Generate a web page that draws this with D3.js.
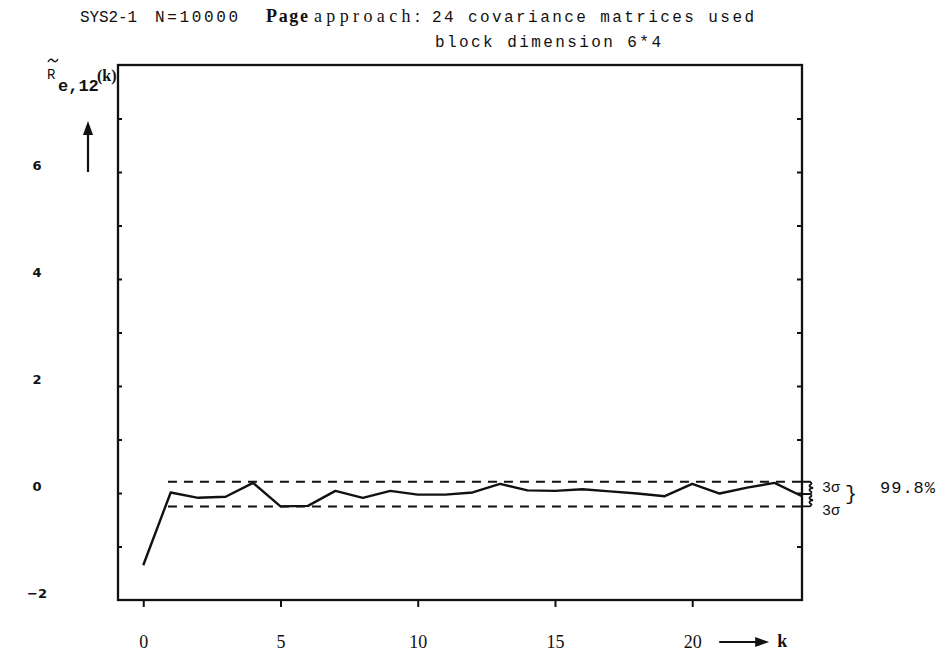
<!DOCTYPE html>
<html>
<head>
<meta charset="utf-8">
<script src="https://cdn.jsdelivr.net/npm/d3@7"></script>
<style>
  body { margin: 0; background: #fff; }
  svg { display: block; }
</style>
</head>
<body>
<svg id="chart" width="945" height="656"></svg>
<script>
// Estimated cross-correlation of the residuals, lags k = 0..24
const lags = d3.range(0, 25);
const corrValues = [-1.35, 0.01, -0.09, -0.07, 0.19, -0.25, -0.24, 0.04, -0.09, 0.04,
                    -0.03, -0.03, 0.01, 0.17, 0.05, 0.04, 0.07, 0.03, -0.01, -0.06,
                    0.17, -0.01, 0.10, 0.19, -0.06];
// 3-sigma confidence band (upper, lower)
const bandLimits = [0.21, -0.25];
const bandStartLag = 0.9;
// Axis ticks
const xTickValues = [0, 5, 10, 15, 20];
const yTickLabels = [6, 4, 2, 0, -2];
const yTickMarks = d3.range(-1, 8);

const svg = d3.select("#chart");
const frame = { left: 118, right: 802, top: 65, bottom: 600 };

const x = d3.scaleLinear().domain([-0.92, 24]).range([frame.left, frame.right]);
const y = d3.scaleLinear().domain([-2, 8]).range([frame.bottom, frame.top]);

const ink = "#111";
const mono = "Liberation Mono, DejaVu Sans Mono, monospace";
const serif = "Liberation Serif, serif";

// Two-line heading, typewriter style
const heading = [
  { t: "SYS2-1", x: 80, y: 22, w: 57, font: mono, size: 16 },
  { t: "N=10000", x: 155, y: 22, w: 83, font: mono, size: 16 },
  { t: "Page", x: 266, y: 22, w: 42, font: serif, size: 18, bold: true },
  { t: "approach:", x: 314, y: 22, w: 106, font: serif, size: 18 },
  { t: "24 covariance matrices used", x: 432, y: 22, w: 322, font: mono, size: 16 },
  { t: "block dimension 6*4", x: 435, y: 47, w: 226, font: mono, size: 16 }
];
svg.append("g").selectAll("text").data(heading).join("text")
  .attr("x", d => d.x).attr("y", d => d.y)
  .attr("textLength", d => d.w).attr("lengthAdjust", "spacing")
  .style("font-family", d => d.font)
  .style("font-size", d => d.size + "px")
  .style("font-weight", d => d.bold ? "bold" : "normal")
  .attr("fill", ink)
  .text(d => d.t);

// Frame
svg.append("rect")
  .attr("x", frame.left).attr("y", frame.top)
  .attr("width", frame.right - frame.left).attr("height", frame.bottom - frame.top)
  .attr("fill", "none").attr("stroke", ink).attr("stroke-width", 2.3);

// Inward ticks on the left and right frame edges
const leftAxis = d3.axisRight(y).tickValues(yTickMarks).tickSize(4).tickFormat("");
svg.append("g").attr("transform", `translate(${frame.left},0)`).call(leftAxis)
  .call(g => g.select(".domain").remove())
  .call(g => g.selectAll("line").attr("stroke", ink).attr("stroke-width", 2));
const rightAxis = d3.axisLeft(y).tickValues(yTickMarks).tickSize(5).tickFormat("");
svg.append("g").attr("transform", `translate(${frame.right},0)`).call(rightAxis)
  .call(g => g.select(".domain").remove())
  .call(g => g.selectAll("line").attr("stroke", ink).attr("stroke-width", 2));

// Bottom axis: outward ticks, numbers further below
const bottomAxis = d3.axisBottom(x).tickValues(xTickValues).tickSize(7).tickPadding(28);
svg.append("g").attr("transform", `translate(0,${frame.bottom})`).call(bottomAxis)
  .call(g => g.select(".domain").remove())
  .call(g => g.selectAll("line").attr("stroke", ink).attr("stroke-width", 2))
  .call(g => g.selectAll("text").attr("fill", ink)
    .style("font-family", serif).style("font-size", "18px"));

// Y tick labels, set just above their tick heights
svg.append("g").selectAll("text").data(yTickLabels).join("text")
  .attr("x", 37).attr("y", d => y(d) - 2)
  .attr("text-anchor", "middle")
  .style("font-family", "DejaVu Sans, sans-serif").style("font-weight", "bold").style("font-size", "13px")
  .attr("fill", ink)
  .text(d => d === -2 ? "\u22122" : d);

// Y axis caption: R~ e,12 (k) with an up arrow
const cap = svg.append("g").attr("fill", ink);
cap.append("path").attr("d", "M48,62 Q50.5,57.5 53,60.5 T58,59")
  .attr("fill", "none").attr("stroke", ink).attr("stroke-width", 1.4);
cap.append("text").attr("x", 47).attr("y", 79).style("font-family", mono).style("font-size", "14px").text("R");
cap.append("text").attr("x", 58).attr("y", 91).style("font-family", mono).style("font-size", "17px").style("font-weight", "bold").text("e,12");
cap.append("text").attr("x", 97).attr("y", 81).style("font-family", serif).style("font-size", "16px").style("font-weight", "bold").text("(k)");
svg.append("line").attr("x1", 88).attr("x2", 88).attr("y1", 172).attr("y2", 132)
  .attr("stroke", ink).attr("stroke-width", 2.2);
svg.append("path").attr("d", "M88,121 L83,135 L93,135 Z").attr("fill", ink);

// "-> k" next to the last x label
const ax = x(20) + 27;
const ay = frame.bottom + 42;
svg.append("line").attr("x1", ax).attr("x2", ax + 38).attr("y1", ay).attr("y2", ay)
  .attr("stroke", ink).attr("stroke-width", 2.2);
svg.append("path").attr("d", `M${ax + 50},${ay} L${ax + 36},${ay - 5} L${ax + 36},${ay + 5} Z`).attr("fill", ink);
svg.append("text").attr("x", ax + 58).attr("y", ay + 5)
  .style("font-family", serif).style("font-weight", "bold").style("font-size", "18px")
  .attr("fill", ink).text("k");

// Confidence band (dashed)
svg.append("g").selectAll("line").data(bandLimits).join("line")
  .attr("x1", x(bandStartLag)).attr("x2", frame.right)
  .attr("y1", d => y(d)).attr("y2", d => y(d))
  .attr("stroke", ink).attr("stroke-width", 2).attr("stroke-dasharray", "9,7");

// Correlation curve
const line = d3.line().x((d, i) => x(lags[i])).y(d => y(d));
svg.append("path").datum(corrValues).attr("d", line)
  .attr("fill", "none").attr("stroke", ink).attr("stroke-width", 2.4).attr("stroke-linejoin", "round");

// Band annotation on the right: two small braces, 3σ labels, 99.8 %
const yMid = y(d3.mean(bandLimits));
const yUp = y(bandLimits[0]);
const yLo = y(bandLimits[1]);
const bx = frame.right + 8;
const brace = (y0, y1) => {
  const m = (y0 + y1) / 2;
  return `M${frame.right},${y0} L${bx},${y0} Q${bx + 3},${y0 + 2} ${bx},${(y0 + m) / 2} Q${bx - 2},${m - 1} ${bx + 3},${m} Q${bx - 2},${m + 1} ${bx},${(m + y1) / 2} Q${bx + 3},${y1 - 2} ${bx},${y1} L${frame.right},${y1}`;
};
svg.append("path").attr("d", brace(yUp, yMid)).attr("fill", "none").attr("stroke", ink).attr("stroke-width", 1.8);
svg.append("path").attr("d", brace(yMid, yLo)).attr("fill", "none").attr("stroke", ink).attr("stroke-width", 1.8);
const sig = svg.append("g").attr("fill", ink).style("font-family", mono).style("font-size", "15px");
sig.append("text").attr("x", 822).attr("y", yUp + 10).text("3\u03c3");
sig.append("text").attr("x", 822).attr("y", yLo + 9).text("3\u03c3");
sig.append("text").attr("x", 845).attr("y", yMid + 6).style("font-size", "20px").text("}");
sig.append("text").attr("x", 880).attr("y", yUp + 11).style("font-size", "17px").style("letter-spacing", "1px").text("99.8%");
</script>
</body>
</html>
